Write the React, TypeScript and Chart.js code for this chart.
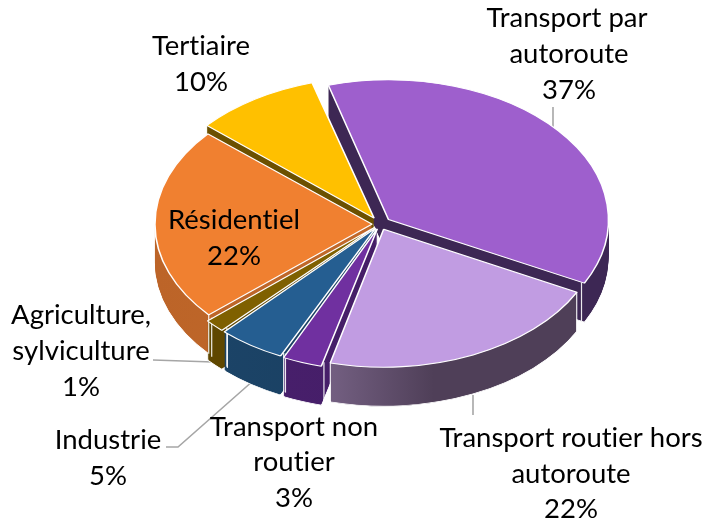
import React, { useEffect, useRef } from "react";
import { Chart, registerables } from "chart.js";

Chart.register(...registerables);

const categories = [
  "Transport par autoroute",
  "Transport routier hors autoroute",
  "Transport non routier",
  "Industrie",
  "Agriculture, sylviculture",
  "Résidentiel",
  "Tertiaire",
];
const shares = [37, 21.4, 3, 5, 1.6, 22.8, 9.2];
const topColors = ["#9E5FCD", "#C19CE2", "#7030A0", "#255E91", "#7F6000", "#F08030", "#FFC000"];
const sideLeft = ["#3D2754", "#725E80", "#4A2070", "#1C4569", "#5F4700", "#BC6428", "#6B5000"];
const sideRight = ["#3D2754", "#4F3F58", "#401C5E", "#173A5A", "#5F4700", "#C66E2C", "#6B5000"];
const explode = [11, 9, 8, 8, 7, 8, 11];

const FONT_STACK = "Lato, 'Noto Sans', sans-serif";
const FONT_SIZE = 27.5;
const SQUASH = 0.635;
const DEPTH = 39;

const labelLines: [string, number, number][] = [
  ["Transport par", 567, 27],
  ["autoroute", 569, 63],
  ["37%", 569, 99],
  ["Tertiaire", 201, 55],
  ["10%", 201, 91],
  ["Résidentiel", 234, 229],
  ["22%", 234, 265],
  ["Agriculture,", 81, 324],
  ["sylviculture", 81, 360],
  ["1%", 81, 396],
  ["Industrie", 108, 449],
  ["5%", 108, 485],
  ["Transport non", 294, 436],
  ["routier", 294, 471],
  ["3%", 294, 507],
  ["Transport routier hors", 571, 447],
  ["autoroute", 571, 483],
  ["22%", 571, 518],
];

const leaders: [number, number][][] = [
  [[553, 107], [553, 132]],
  [[153, 360], [213, 362], [226, 364]],
  [[166, 447], [178, 447], [254, 380]],
  [[473, 395], [473, 415]],
];

const pie3d = {
  id: "pie3d",
  beforeDatasetsDraw(chart: any) {
    const ctx: CanvasRenderingContext2D = chart.ctx;
    const meta = chart.getDatasetMeta(0);
    const first = meta.data[0];
    const cx = first.x;
    const cy = first.y;
    const r = first.outerRadius;

    ctx.save();
    ctx.strokeStyle = "#A6A6A6";
    ctx.lineWidth = 1.6;
    for (const pts of leaders) {
      ctx.beginPath();
      pts.forEach(([x, y], i) => (i ? ctx.lineTo(x, y) : ctx.moveTo(x, y)));
      ctx.stroke();
    }
    ctx.restore();

    const grads = meta.data.map((_: any, i: number) => {
      const g = ctx.createLinearGradient(i === 1 ? 330 : cx - r, 0, i === 1 ? 430 : cx + r, 0);
      g.addColorStop(0, sideLeft[i]);
      g.addColorStop(1, sideRight[i]);
      return g;
    });

    const applySquash = () => {
      ctx.translate(cx, cy);
      ctx.scale(1, SQUASH);
      ctx.translate(-cx, -cy);
    };

    for (let d = DEPTH; d >= 1; d--) {
      ctx.save();
      ctx.translate(0, d);
      applySquash();
      meta.data.forEach((arc: any, i: number) => {
        const saved = arc.options;
        const o = Object.create(saved);
        o.backgroundColor = grads[i];
        o.borderWidth = d === DEPTH ? 1.2 : 0;
        arc.options = o;
        arc.draw(ctx);
        arc.options = saved;
      });
      ctx.restore();
    }

    // white seams down the visible corners of each wedge's side wall
    ctx.save();
    ctx.strokeStyle = "rgba(255,255,255,0.9)";
    ctx.lineWidth = 1.2;
    meta.data.forEach((arc: any, i: number) => {
      const mid = (arc.startAngle + arc.endAngle) / 2;
      const off = explode[i];
      for (const a of [arc.startAngle, arc.endAngle]) {
        if (Math.sin(a) <= 0) continue;
        const x = cx + Math.cos(mid) * off + r * Math.cos(a);
        const y = cy + SQUASH * (Math.sin(mid) * off + r * Math.sin(a));
        ctx.beginPath();
        ctx.moveTo(x, y);
        ctx.lineTo(x, y + DEPTH);
        ctx.stroke();
      }
    });
    ctx.restore();

    ctx.save();
    applySquash();
  },
  afterDatasetsDraw(chart: any) {
    const ctx: any = chart.ctx;
    ctx.restore();
    ctx.save();
    ctx.font = `${FONT_SIZE}px ${FONT_STACK}`;
    ctx.letterSpacing = "0.01px";
    ctx.fillStyle = "#000";
    ctx.textAlign = "center";
    ctx.textBaseline = "alphabetic";
    for (const [t, x, y] of labelLines) ctx.fillText(t, x, y);
    ctx.restore();
  },
};

export default function App() {
  const ref = useRef<HTMLCanvasElement>(null);
  useEffect(() => {
    document.body.style.margin = "0";
    const chart = new Chart(ref.current!, {
      type: "pie",
      plugins: [pie3d],
      data: {
        labels: categories,
        datasets: [
          {
            data: shares,
            backgroundColor: topColors,
            borderColor: "#FFFFFF",
            borderWidth: 1.6,
            offset: explode.map((v) => v * 4),
            hoverOffset: 0,
          },
        ],
      },
      options: {
        responsive: false,
        animation: false,
        rotation: -16,
        radius: 217,
        layout: { padding: { left: 55, bottom: 76, top: 0, right: 0 } },
        plugins: { legend: { display: false }, tooltip: { enabled: false }, title: { display: false } },
      },
    } as any);
    return () => chart.destroy();
  }, []);
  return <canvas ref={ref} width={705} height={524} style={{ display: "block" }} />;
}
